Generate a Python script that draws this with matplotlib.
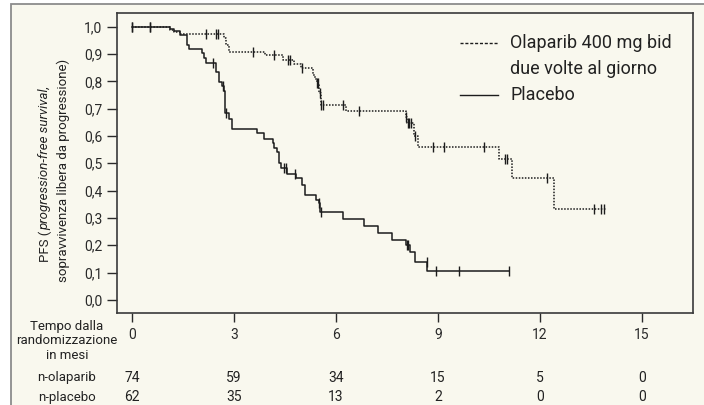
import numpy as np
import matplotlib
matplotlib.use("Agg")
import matplotlib.pyplot as plt
from matplotlib.patches import Rectangle
from matplotlib.lines import Line2D
from matplotlib.transforms import blended_transform_factory

FONT = ["Roboto", "DejaVu Sans"]
plt.rcParams["font.family"] = FONT

# ---------------- data ----------------
ola_times = [1.13, 1.25, 1.40, 2.72, 2.78, 2.84, 3.91, 4.45, 4.77, 4.96, 5.31, 5.37,
             5.44, 5.50, 5.56, 6.30, 8.06, 8.10, 8.28, 8.40, 10.79, 11.17, 12.42]
ola_surv = [0.988, 0.982, 0.973, 0.959, 0.932, 0.908, 0.896, 0.878, 0.864, 0.848, 0.823, 0.807,
            0.793, 0.756, 0.713, 0.693, 0.668, 0.646, 0.600, 0.561, 0.516, 0.445, 0.333]
ola_end = 13.95
ola_censor = [0, 0.54, 2.18, 2.48, 2.52, 3.55, 4.18, 4.60, 4.64, 5.01, 5.45, 5.48, 5.52,
              5.57, 5.62, 6.22, 6.69, 8.07, 8.12, 8.16, 8.20, 8.31, 8.84, 9.18, 10.35,
              10.97, 11.04, 12.20, 13.59, 13.78, 13.87]

pla_times = [1.13, 1.25, 1.40, 1.63, 1.68, 2.06, 2.13, 2.18, 2.47, 2.56, 2.64, 2.70, 2.75,
             2.84, 2.94, 3.67, 3.89, 4.14, 4.17, 4.26, 4.31, 4.38, 4.55, 4.83, 5.00, 5.09,
             5.41, 5.49, 5.53, 6.20, 6.82, 7.25, 7.64, 8.06, 8.18, 8.32, 8.69]
pla_surv = [0.990, 0.984, 0.970, 0.933, 0.918, 0.902, 0.884, 0.866, 0.833, 0.799, 0.784,
            0.765, 0.683, 0.661, 0.625, 0.610, 0.589, 0.573, 0.555, 0.543, 0.500, 0.482,
            0.461, 0.445, 0.421, 0.384, 0.366, 0.354, 0.320, 0.295, 0.272, 0.246, 0.220,
            0.201, 0.177, 0.139, 0.104]
pla_end = 11.09
pla_censor = [0, 0.54, 2.38, 2.69, 2.77, 4.47, 4.53, 4.80, 5.51, 5.56, 8.10, 8.13, 8.67,
              8.95, 9.62, 11.09]

risk_times = [0, 3, 6, 9, 12, 15]
n_olaparib = [74, 59, 34, 15, 5, 0]
n_placebo = [62, 35, 13, 2, 0, 0]

yticks = [0.0, 0.1, 0.2, 0.3, 0.4, 0.5, 0.6, 0.7, 0.8, 0.9, 1.0]
ytick_labels = ["0,0", "0,1", "0,2", "0,3", "0,4", "0,5", "0,6", "0,7", "0,8", "0,9", "1,0"]
xticks = [0, 3, 6, 9, 12, 15]

# ---------------- figure ----------------
W, H = 704, 405
fig = plt.figure(figsize=(W / 100, H / 100), dpi=100, facecolor="white")
CREAM = "#f9f8ee"
TXT = "#222222"
INK = "#1c1c1c"
fig.patches.append(Rectangle((11 / W, -0.1), 1.2, 1 - 4 / H + 0.1, transform=fig.transFigure,
                             facecolor=CREAM, edgecolor="#8c8c8c", lw=1.3, zorder=-5))

ax = fig.add_axes([117 / W, 1 - 313 / H, (693 - 117) / W, (313 - 13) / H], zorder=2)
ax.set_facecolor(CREAM)
ax.set_xlim(-0.44, 16.5)
ax.set_ylim(-0.048, 1.05)
for s in ax.spines.values():
    s.set_color("#3a3a3a")
    s.set_linewidth(1.2)


def step_xy(times, surv, end):
    x = np.concatenate([[0.0], times, [end]])
    y = np.concatenate([[1.0], surv, [surv[-1]]])
    return x, y


def value_at(times, surv, t):
    idx = np.searchsorted(np.array(times), t, side="right")
    return 1.0 if idx == 0 else surv[idx - 1]


x, y = step_xy(ola_times, ola_surv, ola_end)
ax.step(x, y, where="post", color=INK, lw=1.1, linestyle=(0, (1, 1)))
cy = [value_at(ola_times, ola_surv, t) for t in ola_censor]
ax.plot(ola_censor, cy, linestyle="none", marker="|", ms=7, mew=1.0, color=INK)

x, y = step_xy(pla_times, pla_surv, pla_end)
ax.step(x, y, where="post", color=INK, lw=1.1)
cy = [value_at(pla_times, pla_surv, t) for t in pla_censor]
ax.plot(pla_censor, cy, linestyle="none", marker="|", ms=7, mew=1.0, color=INK)

ax.set_yticks(yticks)
ax.set_yticklabels(ytick_labels)
ax.set_xticks(xticks)
ax.set_xticklabels([str(v) for v in xticks])
ax.tick_params(axis="y", length=7.2, width=1.0, pad=3.5, labelsize=10, colors="#2a2a2a")
ax.tick_params(axis="x", length=6.5, width=1.0, pad=4.5, labelsize=10, colors="#2a2a2a")

# legend (manual)
fy = lambda py: 1 - py / H
fx = lambda px: px / W
fig.add_artist(Line2D([fx(460), fx(498)], [fy(43), fy(43)], color=INK, lw=1.0,
                      linestyle=(0, (2.2, 1.3)), transform=fig.transFigure, zorder=10))
fig.add_artist(Line2D([fx(460), fx(498)], [fy(95), fy(95)], color=INK, lw=1.0,
                      transform=fig.transFigure, zorder=10))
LS = 13
fig.text(fx(510), fy(43), "Olaparib 400 mg bid", fontsize=LS, va="center", ha="left", color=TXT, zorder=10)
fig.text(fx(510), fy(69), "due volte al giorno", fontsize=LS, va="center", ha="left", color=TXT, zorder=10)
fig.text(fx(510), fy(95), "Placebo", fontsize=LS, va="center", ha="left", color=TXT, zorder=10)

# risk table
FS = 9.5
fig.text(fx(67), fy(341), "Tempo dalla\nrandomizzazione\nin mesi", fontsize=FS, ha="center",
         va="center", linespacing=1.15, color=TXT)
fig.text(fx(67), fy(378), "n-olaparib", fontsize=FS, ha="center", va="center", color=TXT)
fig.text(fx(67), fy(397), "n-placebo", fontsize=FS, ha="center", va="center", color=TXT)
tr = blended_transform_factory(ax.transData, fig.transFigure)
for t, a, b in zip(risk_times, n_olaparib, n_placebo):
    ax.text(t, fy(378), str(a), transform=tr, fontsize=10, ha="center", va="center", color=TXT)
    ax.text(t, fy(397), str(b), transform=tr, fontsize=10, ha="center", va="center", color=TXT)

# y label (two lines, mixed style)
fig.canvas.draw()
r = fig.canvas.get_renderer()
t1 = fig.text(fx(45), fy(262), "PFS (", rotation=90, fontsize=FS, ha="center", va="bottom", color=TXT)
bb = t1.get_window_extent(renderer=r)
fig.text(fx(45), (bb.y1 + 0.5) / H, "progression-free survival,", rotation=90, fontsize=FS,
         ha="center", va="bottom", style="italic", color=TXT)
fig.text(fx(63), fy(170), "sopravvivenza libera da progressione)", rotation=90, fontsize=FS,
         ha="center", va="center", color=TXT)

fig.savefig("out.png", dpi=100, facecolor="white")
